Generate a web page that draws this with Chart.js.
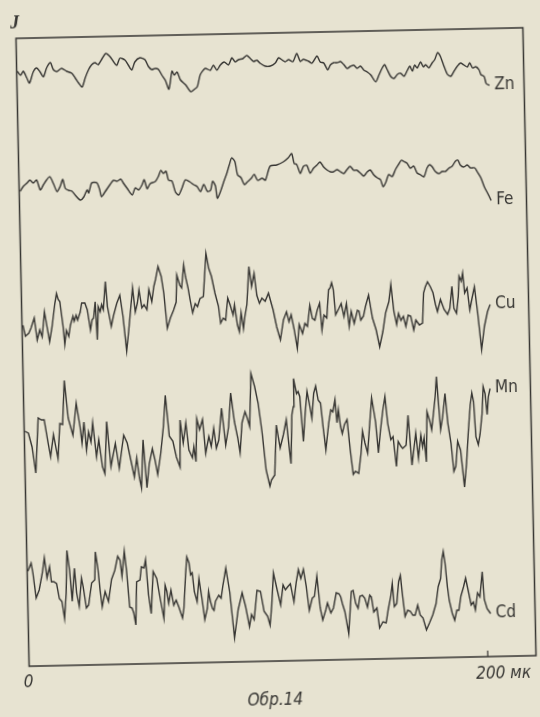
<!DOCTYPE html>
<html><head><meta charset="utf-8">
<script src="https://cdn.jsdelivr.net/npm/chart.js@4.4.1/dist/chart.umd.min.js"></script>
<style>
html,body{margin:0;padding:0;background:#e7e3d1;overflow:hidden;width:540px;height:717px;}
#wrap{position:absolute;left:0;top:0;width:540px;height:717px;transform-origin:276px 347px;transform:rotate(-1.2deg);}
canvas{display:block;}
</style></head><body>
<div id="wrap"><canvas id="c" width="540" height="717"></canvas></div>
<script>
// distance in µm (x) and intensity J in arbitrary units (y), one array of [x, J] pairs per element
const zn = [[0.3,595],[1.7,591],[2.9,595],[4.4,588],[5.5,583],[7.2,594],[8.7,598],[10.2,594],[11.6,589],[13.1,598],[14.8,603],[16.0,596],[17.5,594],[19.6,597],[21.8,594],[24.0,592],[25.5,587],[26.9,582],[28.4,578],[29.8,587],[31.3,595],[32.7,600],[34.2,602],[35.6,600],[37.1,605],[39.0,611],[40.7,608],[42.2,603],[43.7,599],[45.1,606],[47.3,604],[48.7,599],[50.2,594],[51.6,602],[53.8,606],[56.0,604],[57.5,597],[58.9,594],[60.4,595],[61.8,594],[63.3,588],[64.7,583],[66.2,574],[67.7,592],[68.7,588],[69.9,591],[71.3,583],[73.5,578],[75.7,571],[77.1,573],[78.6,576],[80.0,588],[82.2,594],[84.4,592],[85.8,597],[87.3,592],[88.8,597],[90.5,600],[92.4,597],[93.9,604],[95.3,600],[96.8,602],[98.7,603],[100.4,606],[101.9,603],[103.3,600],[104.8,601],[106.2,598],[108.4,595],[110.6,595],[112.8,598],[114.2,603],[115.7,601],[117.1,599],[118.6,601],[120.5,599],[122.2,607],[123.7,599],[125.1,601],[127.3,599],[128.8,597],[131.0,604],[132.4,598],[133.9,597],[135.6,590],[136.8,595],[138.2,597],[139.7,597],[141.2,598],[142.6,595],[144.1,591],[145.5,593],[147.0,594],[148.4,591],[149.9,593],[151.3,589],[152.8,587],[154.3,584],[156.4,577],[157.9,584],[159.4,591],[160.4,594],[161.5,589],[163.0,582],[164.4,580],[165.9,584],[167.3,585],[168.8,582],[170.3,588],[171.4,592],[172.5,587],[173.5,593],[174.6,590],[176.1,596],[177.3,591],[178.3,593],[179.7,590],[181.2,595],[182.3,598],[183.6,605],[184.8,601],[186.0,593],[187.7,583],[189.2,581],[190.6,586],[192.1,591],[193.5,594],[195.0,592],[196.5,590],[197.5,594],[198.7,589],[200.1,590],[201.5,587],[202.3,582],[203.7,580],[204.5,573],[205.9,571]];
const fe = [[0.4,475],[1.9,480],[3.4,483],[4.8,486],[6.2,483],[7.7,486],[9.2,476],[10.6,481],[12.1,486],[13.5,489],[15.0,482],[16.5,474],[17.9,479],[19.1,486],[20.1,477],[21.5,475],[23.0,474],[24.4,470],[26.6,465],[28.1,468],[29.6,475],[30.3,472],[31.7,482],[33.9,482],[35.1,475],[35.8,468],[37.5,473],[39.7,480],[41.2,484],[42.7,483],[44.4,485],[45.5,481],[47.0,476],[49.2,469],[50.6,476],[52.1,474],[53.6,479],[54.6,484],[55.8,475],[57.2,480],[59.4,482],[60.8,487],[61.9,493],[63.0,490],[64.2,492],[65.2,483],[66.7,482],[68.1,471],[69.5,468],[71.0,475],[72.5,483],[74.4,481],[76.1,478],[77.6,476],[79.0,471],[80.5,478],[82.0,471],[83.4,472],[84.4,481],[85.6,476],[86.3,464],[87.8,471],[89.2,480],[90.7,489],[91.8,497],[92.9,504],[94.3,500],[95.3,487],[96.8,484],[98.2,477],[99.7,480],[101.2,483],[102.6,487],[104.0,481],[106.0,483],[107.4,481],[109.6,495],[112.5,496],[115.4,499],[117.6,503],[119.1,507],[120.1,497],[121.2,496],[122.7,487],[124.1,494],[125.6,495],[127.0,487],[128.5,492],[130.0,495],[131.4,498],[132.9,493],[134.3,490],[135.8,488],[137.2,488],[138.7,490],[140.1,488],[141.6,486],[143.1,490],[144.5,493],[146.0,489],[147.4,489],[148.9,486],[150.3,483],[151.8,487],[153.2,489],[154.7,484],[156.2,481],[157.6,479],[158.6,472],[159.8,476],[161.2,484],[162.7,482],[164.2,489],[165.6,494],[166.8,498],[167.8,497],[169.3,495],[170.7,490],[172.2,492],[173.6,485],[175.1,483],[176.5,481],[178.0,490],[179.1,493],[180.2,491],[181.6,486],[183.1,484],[184.5,486],[186.0,486],[187.4,489],[188.9,491],[190.4,496],[191.5,497],[192.5,492],[194.0,490],[195.5,492],[196.9,489],[198.7,489],[199.8,485],[201.3,479],[202.7,470],[204.2,463],[205.6,456]];
const cu = [[0.4,341],[1.4,330],[2.9,333],[3.9,338],[5.4,348],[6.5,326],[7.7,336],[8.7,329],[9.9,354],[10.9,339],[11.9,324],[13.1,339],[14.5,362],[15.3,372],[16.0,366],[16.7,364],[17.9,339],[18.5,321],[19.3,335],[20.3,329],[21.1,340],[22.3,349],[22.8,344],[23.7,350],[24.3,345],[25.5,353],[26.2,362],[27.6,362],[28.6,355],[29.8,335],[30.6,345],[31.3,347],[32.1,363],[32.7,325],[33.4,358],[34.2,353],[34.9,360],[35.6,355],[36.7,383],[37.4,358],[38.9,338],[40.0,349],[41.5,361],[42.9,369],[44.1,348],[45.4,313],[46.5,334],[47.6,357],[48.5,376],[49.5,352],[50.5,361],[51.3,374],[52.4,356],[53.4,359],[54.6,354],[55.6,374],[56.8,362],[57.8,377],[58.6,384],[59.8,397],[61.1,387],[62.1,370],[63.3,335],[64.7,345],[66.2,353],[67.4,361],[67.9,388],[69.1,378],[69.9,375],[71.0,398],[71.7,386],[72.7,375],[73.5,363],[74.5,350],[75.7,359],[76.7,356],[77.8,364],[79.3,366],[80.0,386],[80.8,409],[81.9,394],[83.0,386],[84.4,369],[85.8,356],[86.6,339],[87.8,344],[88.8,342],[89.9,364],[90.9,357],[92.1,347],[92.8,357],[93.9,337],[94.7,330],[95.6,349],[96.5,333],[97.2,345],[98.2,357],[99.4,395],[100.4,375],[101.6,388],[102.6,366],[103.7,358],[104.8,363],[106.2,360],[107.7,368],[109.6,351],[111.0,334],[112.5,321],[114.0,341],[115.4,349],[116.4,339],[117.4,346],[118.6,331],[119.8,312],[120.8,336],[122.2,327],[123.3,337],[124.4,334],[125.6,355],[126.6,342],[127.7,340],[128.8,350],[129.9,357],[130.7,330],[131.7,345],[132.9,342],[133.9,370],[134.6,372],[135.3,377],[136.0,370],[136.8,345],[138.2,351],[139.3,356],[140.4,343],[141.6,356],[142.6,333],[143.6,348],[144.8,336],[146.3,349],[147.0,348],[147.7,339],[148.9,343],[149.9,353],[151.3,364],[152.8,341],[154.3,329],[155.7,312],[157.2,327],[158.6,346],[160.1,357],[161.1,374],[162.2,347],[163.3,334],[164.2,345],[165.2,338],[166.3,342],[167.3,332],[168.4,343],[169.5,342],[170.7,328],[171.7,338],[173.2,333],[174.6,335],[175.3,365],[176.1,371],[177.1,376],[178.3,371],[179.4,365],[180.4,353],[181.2,346],[182.6,358],[184.1,348],[185.6,343],[186.6,349],[187.7,371],[188.4,349],[189.5,344],[190.4,361],[190.9,381],[191.8,376],[192.5,384],[193.2,364],[194.3,369],[195.3,347],[196.5,360],[197.5,370],[198.7,344],[200.1,307],[201.5,330],[203.0,345],[204.2,352]];
const mn = [[0.3,235],[1.8,233],[3.3,219],[4.7,193],[6.2,248],[7.6,246],[8.8,246],[10.3,223],[11.3,209],[12.7,231],[14.5,207],[15.6,242],[16.8,241],[17.9,285],[19.3,247],[21.2,230],[22.9,262],[24.4,238],[25.1,222],[26.1,243],[27.0,215],[28.0,233],[29.0,223],[29.9,242],[31.3,208],[32.4,225],[33.8,198],[34.8,191],[36.0,243],[37.5,198],[39.6,221],[41.1,196],[43.3,229],[44.8,221],[46.2,204],[47.6,187],[48.8,206],[49.8,186],[50.6,176],[51.7,224],[53.0,176],[54.2,200],[55.7,215],[56.7,204],[57.8,189],[59.3,210],[60.7,237],[61.8,268],[63.2,227],[64.7,222],[66.1,206],[67.6,196],[68.0,243],[69.2,220],[70.5,240],[71.6,213],[73.1,205],[73.8,216],[74.6,201],[75.3,244],[76.4,233],[77.8,243],[78.9,209],[80.4,226],[81.4,216],[82.6,234],[83.6,214],[84.7,222],[86.2,254],[87.7,217],[89.1,235],[90.3,269],[91.7,240],[93.0,224],[93.9,209],[95.0,239],[96.4,250],[97.4,243],[98.3,235],[99.3,288],[100.8,275],[102.2,258],[103.7,228],[105.1,191],[106.6,175],[107.3,181],[108.8,186],[109.9,236],[111.4,213],[112.9,226],[114.3,241],[115.3,214],[116.0,197],[116.8,246],[117.5,254],[117.8,282],[119.0,267],[119.7,269],[120.4,264],[121.6,219],[122.6,247],[123.6,269],[124.5,257],[125.5,242],[126.5,267],[127.4,274],[128.4,260],[129.4,257],[130.3,233],[131.3,210],[132.8,237],[133.8,250],[134.7,248],[135.7,260],[136.4,237],[137.1,250],[137.9,233],[138.6,226],[139.6,235],[140.8,240],[141.9,210],[143.0,185],[144.0,188],[145.4,186],[146.6,206],[147.4,228],[148.4,216],[149.5,206],[150.5,232],[151.7,261],[153.2,237],[154.2,206],[155.3,229],[156.5,249],[157.5,262],[158.5,235],[159.7,219],[160.7,222],[161.9,192],[162.9,217],[164.1,212],[164.8,210],[166.3,213],[167.4,243],[168.7,193],[169.6,208],[170.6,225],[171.6,200],[172.8,223],[173.5,211],[174.2,220],[175.0,196],[175.7,246],[176.9,236],[177.6,228],[178.6,246],[179.4,261],[180.1,281],[180.8,254],[181.5,228],[182.5,241],[183.7,264],[184.7,234],[185.9,214],[186.9,186],[187.8,191],[188.8,216],[190.0,207],[191.4,170],[192.5,194],[193.5,224],[194.6,252],[195.4,264],[196.1,255],[196.8,220],[197.8,212],[198.6,222],[199.7,243],[200.4,270],[201.2,263],[201.9,242],[202.6,260],[203.4,268]];
const cd = [[0.3,95],[1.8,103],[2.5,93],[3.7,68],[5.1,76],[6.6,93],[7.6,108],[8.6,88],[9.8,99],[10.5,84],[11.5,84],[12.7,82],[13.8,67],[14.9,64],[15.9,47],[16.8,72],[17.5,115],[18.5,95],[19.4,64],[20.6,97],[21.4,72],[22.4,59],[23.6,87],[24.3,78],[25.5,57],[26.5,60],[28.0,82],[29.4,85],[29.9,113],[30.9,95],[31.6,75],[32.4,58],[33.8,73],[35.2,63],[36.7,85],[38.2,94],[39.6,108],[40.6,104],[41.3,88],[42.5,113],[43.3,94],[44.4,57],[45.4,56],[46.1,51],[46.9,39],[47.6,82],[49.1,84],[49.8,97],[51.0,96],[51.7,104],[52.7,69],[53.7,50],[54.9,92],[56.4,85],[57.8,64],[59.2,45],[60.0,78],[60.7,72],[61.4,60],[62.5,73],[63.6,58],[64.7,63],[65.8,56],[67.3,45],[68.0,55],[69.0,88],[69.7,106],[70.6,100],[71.2,88],[71.9,90],[72.7,71],[73.8,61],[74.8,84],[76.0,63],[77.0,43],[78.2,54],[78.9,71],[79.6,61],[80.4,54],[81.1,52],[81.8,61],[83.3,67],[84.3,64],[85.2,77],[86.6,94],[88.1,70],[89.8,24],[91.6,52],[93.5,69],[94.9,55],[96.4,35],[97.4,47],[98.5,42],[100.0,71],[101.5,70],[102.9,50],[104.4,45],[105.4,36],[106.3,56],[107.3,88],[108.8,71],[110.2,56],[111.4,76],[112.4,71],[113.4,74],[114.6,77],[116.0,59],[117.2,79],[118.2,91],[119.2,82],[120.4,91],[121.5,74],[122.6,50],[124.0,62],[125.0,64],[126.2,84],[127.4,52],[128.4,40],[129.8,50],[130.6,57],[132.0,47],[133.2,52],[134.5,67],[135.7,66],[136.4,63],[137.1,56],[138.1,48],[139.6,26],[141.1,68],[141.9,69],[142.9,56],[143.9,51],[144.8,63],[145.9,64],[146.9,61],[148.0,52],[149.1,64],[149.8,62],[150.7,47],[152.1,51],[153.1,31],[154.6,37],[156.0,36],[157.0,49],[158.2,62],[159.0,75],[159.7,52],[160.8,55],[161.8,77],[162.6,83],[163.3,65],[164.3,42],[165.5,48],[166.6,47],[167.7,43],[168.7,43],[169.9,53],[170.9,43],[172.1,40],[173.5,28],[174.9,35],[176.4,43],[177.9,54],[179.0,71],[180.1,79],[180.8,98],[181.5,106],[182.2,94],[183.0,71],[183.7,57],[184.9,44],[185.9,37],[186.9,47],[187.8,47],[188.8,61],[190.0,70],[191.0,79],[192.0,67],[193.2,52],[194.2,55],[195.0,47],[196.1,64],[197.1,60],[198.3,85],[199.0,57],[200.1,48],[201.6,43]];

const names = ['Zn', 'Fe', 'Cu', 'Mn', 'Cd'];
const series = [zn, fe, cu, mn, cd];
const smooth = [0.25, 0.25, 0, 0, 0];
const xTickValue = 200;
const xTickLabel = '200 мк';
const xZeroLabel = '0';
const yAxisLabel = 'J';
const caption = 'Обр.14';

const ink = '#363532';
const labelFont = '17px "Liberation Sans Narrow", "DejaVu Sans Condensed", sans-serif';
const italicFont = 'italic 17px "Liberation Sans Narrow", "DejaVu Sans Condensed", sans-serif';

const overlay = {
  id: 'overlay',
  afterDatasetsDraw(chart) {
    const ctx = chart.ctx;
    const a = chart.chartArea;
    const xs = chart.scales.x;
    ctx.save();
    ctx.strokeStyle = ink;
    ctx.lineWidth = 1.5;
    ctx.strokeRect(a.left, a.top, a.right - a.left, a.bottom - a.top);
    const tx = xs.getPixelForValue(xTickValue);
    ctx.beginPath();
    ctx.moveTo(tx, a.bottom);
    ctx.lineTo(tx, a.bottom - 6);
    ctx.lineWidth = 1.2;
    ctx.stroke();
    ctx.fillStyle = ink;
    ctx.font = labelFont;
    ctx.textBaseline = 'middle';
    ctx.textAlign = 'left';
    chart.data.datasets.forEach((ds, i) => {
      const meta = chart.getDatasetMeta(i);
      const last = meta.data[meta.data.length - 1];
      ctx.fillText(ds.label, last.x + 5, last.y);
    });
    ctx.font = italicFont;
    ctx.textAlign = 'center';
    ctx.fillText(xZeroLabel, xs.getPixelForValue(0) - 1, a.bottom + 17);
    ctx.textAlign = 'left';
    ctx.fillText(xTickLabel, tx - 12, a.bottom + 18);
    ctx.textAlign = 'center';
    ctx.fillText(caption, (a.left + a.right) / 2 - 8, a.bottom + 40);
    ctx.font = 'italic bold 18px "Liberation Serif", "DejaVu Serif", serif';
    ctx.fillText(yAxisLabel, a.left - 1, a.top - 15);
    ctx.restore();
  }
};

new Chart(document.getElementById('c'), {
  type: 'line',
  data: {
    datasets: series.map((s, i) => ({
      label: names[i],
      data: s.map(p => ({ x: p[0], y: p[1] })),
      borderColor: ink,
      borderWidth: 1.4,
      pointRadius: 0,
      tension: smooth[i],
      fill: false
    }))
  },
  options: {
    responsive: false,
    devicePixelRatio: 1,
    animation: false,
    layout: { padding: { left: 22.5, top: 33, right: 10.5, bottom: 56 } },
    plugins: { legend: { display: false }, tooltip: { enabled: false } },
    scales: {
      x: { type: 'linear', min: 0, max: 221, display: false },
      y: { type: 'linear', min: 0, max: 628, display: false }
    }
  },
  plugins: [overlay]
});
</script>
</body></html>
